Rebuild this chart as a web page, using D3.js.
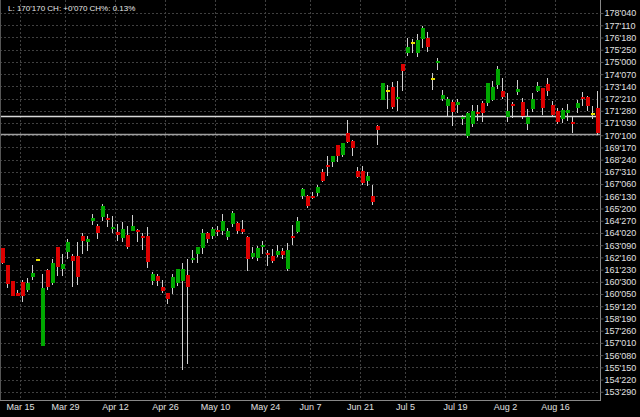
<!DOCTYPE html>
<html><head><meta charset="utf-8">
<script src="https://cdn.jsdelivr.net/npm/d3@7"></script>
<style>html,body{margin:0;padding:0;background:#000;} svg{display:block}</style>
</head><body><svg id="c" width="640" height="417"></svg>
<script>
// ---- data ----
const tickBars   = [4, 13, 23, 33, 43, 53, 62, 72, 81, 91, 101, 111];
const tickLabels = ["Mar 15","Mar 29","Apr 12","Apr 26","May 10","May 24","Jun 7","Jun 21","Jul 5","Jul 19","Aug 2","Aug 16"];
const yTickLabels = ["178'040","177'110","176'180","175'250","175'000","174'070","173'140","172'210","171'280","171'030","170'100","169'170","168'240","167'310","167'060","166'130","165'200","164'270","164'020","163'090","162'160","161'230","160'300","160'050","159'120","158'190","157'260","157'010","156'080","155'150","154'220","153'290"];

const open = [
163.10,162.01,160.99,160.22,160.93,160.42,161.25,162.33,156.84,161.69,
160.86,163.16,161.76,162.85,162.59,162.59,163.87,163.48,164.83,164.51,
165.08,165.02,164.32,164.12,163.74,163.93,164.19,164.22,163.87,163.87,
160.99,161.31,160.61,160.22,160.54,160.86,160.99,161.37,162.40,162.72,
163.10,164.06,163.87,164.25,164.19,163.80,164.64,164.70,164.32,163.80,
162.53,162.46,163.16,162.78,162.59,162.65,162.91,161.76,163.87,164.12,
166.43,166.43,166.43,166.62,167.96,168.41,168.60,169.69,169.05,170.45,
169.94,168.02,168.02,167.39,166.43,170.91,172.57,173.15,173.40,172.63,
174.87,175.58,176.22,175.58,176.47,176.53,173.91,174.94,172.63,172.19,
172.44,172.25,171.36,170.27,171.04,171.80,172.38,172.38,172.57,173.53,
173.15,171.48,172.31,173.08,172.44,171.04,171.99,173.15,173.34,173.59,
172.25,171.87,171.36,171.74,171.16,172.06,172.76,172.76,171.68,172.06];
const high = [
163.10,162.01,160.99,160.42,161.06,161.18,162.01,162.33,161.44,161.76,
162.40,163.16,162.72,163.68,162.72,163.48,164.06,163.87,165.28,164.64,
165.91,165.28,165.15,164.64,164.76,164.51,165.21,164.32,164.06,164.44,
161.57,161.44,161.06,160.22,161.44,161.76,162.14,162.40,162.97,163.16,
164.32,164.12,164.44,164.51,165.28,164.38,165.47,164.76,164.89,163.87,
163.16,163.23,163.55,162.97,163.04,163.29,163.10,163.42,164.57,165.08,
166.94,166.49,166.68,167.13,168.15,168.98,168.98,169.69,169.82,171.29,
170.01,168.28,168.34,167.96,167.13,170.97,173.66,173.53,173.72,173.78,
174.87,176.53,176.47,176.79,177.30,176.92,174.30,175.26,173.21,172.76,
172.57,172.63,171.61,171.80,172.25,172.25,172.51,173.66,173.78,174.74,
173.98,173.02,172.44,173.85,172.70,171.99,173.02,173.72,173.34,173.98,
172.51,172.06,172.06,172.31,171.48,172.57,173.08,172.83,172.19,173.15];
const low = [
162.08,160.54,160.03,160.03,159.65,160.29,161.06,162.33,156.84,160.42,
160.73,161.31,161.31,162.40,160.61,160.73,162.72,162.91,164.57,163.68,
164.83,164.44,164.06,163.55,163.48,163.04,164.19,163.48,162.97,161.82,
160.73,160.67,160.22,159.52,160.16,160.67,155.30,155.68,162.14,162.14,
162.72,163.42,163.68,163.87,163.93,163.61,164.44,164.00,164.00,161.63,
162.40,162.27,162.72,161.95,162.14,162.53,162.40,161.63,163.29,164.06,
166.23,165.66,166.23,166.43,167.32,167.71,168.28,168.60,168.92,169.82,
168.98,167.58,167.13,167.07,165.85,169.69,172.57,171.99,171.99,171.87,
173.15,175.38,175.58,175.32,175.90,175.64,173.21,174.49,172.51,171.48,
170.91,171.74,170.97,170.14,170.84,171.23,171.16,172.19,172.51,173.27,
172.63,171.16,171.42,172.89,171.36,170.65,171.80,173.08,171.61,172.83,
171.55,171.04,171.10,171.23,170.46,171.74,172.19,171.87,171.36,170.33];
const close = [
162.14,160.80,160.03,160.03,160.03,160.86,161.50,162.33,160.54,160.61,
162.14,161.89,162.08,163.48,162.27,161.25,163.55,163.68,165.02,164.06,
165.79,164.92,164.44,163.93,164.32,163.16,164.51,164.16,163.74,162.21,
161.44,160.99,160.35,159.84,161.25,161.76,161.76,160.61,162.46,163.16,
164.06,163.68,164.32,164.12,164.83,164.19,165.34,164.19,164.12,162.40,
162.78,163.10,163.29,162.65,162.27,162.91,162.65,162.97,163.80,164.83,
166.87,165.79,166.30,167.00,167.39,168.31,168.98,168.98,169.82,169.88,
169.50,167.64,167.26,167.71,166.04,170.65,173.66,173.15,172.12,172.76,
174.42,175.96,176.22,176.41,177.17,175.96,173.91,175.06,172.89,172.63,
171.80,172.44,171.48,171.74,171.87,171.68,171.74,173.66,173.40,174.55,
172.76,171.87,172.19,173.27,171.55,171.48,172.63,173.47,172.06,173.15,
171.61,171.16,171.93,171.93,171.04,172.38,172.63,172.19,171.68,170.46];
const levelLines = [171.55, 170.40];
const legendText = "L: 170'170 CH: +0'070 CH%: 0.13%";

// ---- chart ----
const W = 640, H = 417, R = 600, B = 400;
const FONT = "'Liberation Sans', Arial, sans-serif";
const svg = d3.select('#c');
svg.append('rect').attr('width', W).attr('height', H).attr('fill', '#000');

const x = d3.scaleBand().domain(d3.range(open.length)).range([0, R]).paddingInner(0.2).paddingOuter(0.1);
const y = d3.scaleLinear().domain([153.38, 178.96]).range([B, 0]);
const parse = s => { const [a, b] = s.split("'"); return +a + (+b.slice(0, 2) + +b[2] / 10) / 32; };
const yVals = yTickLabels.map(parse);
const crisp = v => Math.round(v) + 0.5;
const gridX = i => Math.round(x(i) - x.step() * x.paddingOuter()) + 0.5;

// grid
const g = svg.append('g');
g.selectAll('.hg').data(yVals).join('line')
  .attr('x1', 0).attr('x2', R).attr('y1', d => crisp(y(d))).attr('y2', d => crisp(y(d)))
  .attr('stroke', '#404040').attr('stroke-dasharray', '2,2');
g.selectAll('.vg').data(tickBars).join('line')
  .attr('x1', gridX).attr('x2', gridX).attr('y1', 0).attr('y2', B)
  .attr('stroke', '#404040').attr('stroke-dasharray', '2,2');

// level lines
svg.append('line').attr('x1', 0).attr('x2', R).attr('y1', crisp(y(levelLines[0]))).attr('y2', crisp(y(levelLines[0])))
  .attr('stroke', '#d8d8d8').attr('stroke-width', 1.3);
svg.append('line').attr('x1', 0).attr('x2', R).attr('y1', crisp(y(levelLines[1]))).attr('y2', crisp(y(levelLines[1])))
  .attr('stroke', '#a0a0a0').attr('stroke-width', 1.3);

// candles
const idx = d3.range(open.length);
const bw = x.bandwidth();
const cx = i => Math.floor(x(i) + bw / 2) + 0.5;
svg.append('g').selectAll('line').data(idx).join('line')
  .attr('x1', cx).attr('x2', cx)
  .attr('y1', i => Math.round(y(high[i]))).attr('y2', i => Math.round(y(low[i])))
  .attr('stroke', '#d0d0d0').attr('stroke-width', 1);
const color = i => close[i] > open[i] ? '#00a800' : (close[i] < open[i] ? '#dd0000' : '#e8e000');
svg.append('g').selectAll('rect').data(idx).join('rect')
  .attr('x', i => Math.round(x(i)))
  .attr('width', Math.round(bw))
  .attr('y', i => {
    const t = Math.round(y(Math.max(open[i], close[i]))), b = Math.round(y(Math.min(open[i], close[i])));
    return b - t < 2 ? Math.round((t + b) / 2) - 1 : t;
  })
  .attr('height', i => {
    const t = Math.round(y(Math.max(open[i], close[i]))), b = Math.round(y(Math.min(open[i], close[i])));
    return Math.max(2, b - t);
  })
  .attr('fill', color);

// borders
svg.append('line').attr('x1', 0.5).attr('x2', 0.5).attr('y1', 0).attr('y2', B).attr('stroke', '#555');
svg.append('line').attr('x1', 0).attr('x2', R + 1).attr('y1', B + 0.5).attr('y2', B + 0.5).attr('stroke', '#888');

// right axis
const ya = svg.append('g').attr('transform', `translate(${R + 0.5},0)`)
  .call(d3.axisRight(y).tickValues(yVals).tickFormat((d, i) => yTickLabels[i]).tickSize(3).tickSizeOuter(0).tickPadding(1));
ya.select('.domain').attr('stroke', '#888').attr('d', `M0,0V${B + 0.5}`);
ya.selectAll('.tick line').attr('stroke', '#555');
ya.selectAll('text').attr('fill', '#e0e0e0').style('font-family', FONT).style('font-size', '9px');

// bottom axis
const xa = svg.append('g').attr('transform', `translate(${-x.step() / 2 + 0.5},${B})`)
  .call(d3.axisBottom(x).tickValues(tickBars).tickFormat((d, i) => tickLabels[i]).tickSize(0).tickPadding(4));
xa.select('.domain').remove();
xa.selectAll('text').attr('fill', '#e0e0e0').style('font-family', FONT).style('font-size', '9px');

// legend
svg.append('text').attr('x', 8).attr('y', 11).text(legendText)
  .attr('fill', '#e8e8e8').style('font-family', FONT).style('font-size', '8px');
</script></body></html>
